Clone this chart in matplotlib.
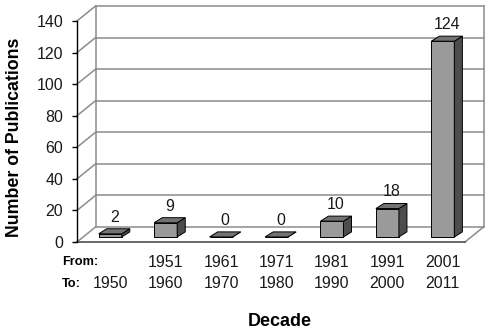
import matplotlib
matplotlib.use('Agg')
import matplotlib.pyplot as plt
from matplotlib.patches import Polygon

plt.rcParams['font.family'] = ['Liberation Sans', 'DejaVu Sans']

# data
decade_from = ['', '1951', '1961', '1971', '1981', '1991', '2001']
decade_to = ['1950', '1960', '1970', '1980', '1990', '2000', '2011']
publications = [2, 9, 0, 0, 10, 18, 124]
y_ticks = [0, 20, 40, 60, 80, 100, 120, 140]

# fake 3d geometry (data units)
wall_dx, wall_dy = 0.334, 9.5     # depth of the back wall
bar_dx, bar_dy = 0.1, 3.2         # bar front face offset from the front plane
bar_w = 0.415
depth_dx, depth_dy = 0.145, 3.2   # bar depth
grid_c = '#8c8c8c'
front_c, top_c, side_c = '#9a9a9a', '#737373', '#4d4d4d'
txt_c = '#1a1a1a'

fig = plt.figure(figsize=(4.9, 3.35), dpi=100)
ax = fig.add_axes([77 / 490, 93 / 335, 388 / 490, 221 / 335])
n = len(publications)
ax.set_xlim(0, n)
ax.set_ylim(0, 140)
for s in ['top', 'right', 'bottom']:
    ax.spines[s].set_visible(False)
ax.spines['left'].set_linewidth(1.0)

# walls and grid
ymax = y_ticks[-1]
for t in y_ticks:
    ax.plot([wall_dx, n + wall_dx], [t + wall_dy, t + wall_dy], color=grid_c, lw=1.1, zorder=1, clip_on=False)
    ax.plot([0, wall_dx], [t, t + wall_dy], color=grid_c, lw=1.1, zorder=1, clip_on=False)
ax.plot([wall_dx, wall_dx], [wall_dy, ymax + wall_dy], color=grid_c, lw=1.1, zorder=1, clip_on=False)
ax.plot([n + wall_dx, n + wall_dx], [wall_dy, ymax + wall_dy], color=grid_c, lw=1.1, zorder=1, clip_on=False)
ax.plot([n, n + wall_dx], [0, wall_dy], color=grid_c, lw=1.1, zorder=1, clip_on=False)
ax.plot([0, n], [0, 0], color='#404040', lw=1.1, zorder=1, clip_on=False)

# bars
centers = [i + 0.5 + bar_dx for i in range(n)]
ax.bar(centers, publications, width=bar_w, bottom=bar_dy, color=front_c,
       edgecolor='black', linewidth=0.7, zorder=3, clip_on=False)
for xc, v in zip(centers, publications):
    xl, xr = xc - bar_w / 2, xc + bar_w / 2
    yt = bar_dy + v
    top = Polygon([(xl, yt), (xr, yt), (xr + depth_dx, yt + depth_dy), (xl + depth_dx, yt + depth_dy)],
                  closed=True, facecolor=top_c, edgecolor='black', lw=0.7, zorder=4, clip_on=False)
    side = Polygon([(xr, bar_dy), (xr + depth_dx, bar_dy + depth_dy), (xr + depth_dx, yt + depth_dy), (xr, yt)],
                   closed=True, facecolor=side_c, edgecolor='black', lw=0.7, zorder=4, clip_on=False)
    ax.add_patch(side)
    ax.add_patch(top)
    ax.annotate(str(v), xy=(xc + depth_dx / 2, yt + depth_dy), xytext=(0, 3),
                textcoords='offset points', ha='center', va='bottom', fontsize=11.5, color=txt_c)

# axis ticks
ax.set_yticks(y_ticks)
ax.set_xticks([])
ax.tick_params(axis='y', length=3.5, width=1.0, pad=6.5, labelsize=11.5, labelcolor=txt_c)

# decade rows
for xc, f, t in zip(centers, decade_from, decade_to):
    ax.text(xc, -12.7, f, ha='center', va='center', fontsize=11.5, color=txt_c, clip_on=False)
    ax.text(xc, -26.6, t, ha='center', va='center', fontsize=11.5, color=txt_c, clip_on=False)
ax.text(-0.27, -12.7, 'From:', ha='left', va='center', fontsize=9.2, fontweight='bold', clip_on=False)
ax.text(-0.27, -26.6, 'To:', ha='left', va='center', fontsize=9.2, fontweight='bold', clip_on=False)

fig.text(280 / 490, 1 - 322 / 335, 'Decade', ha='center', va='center', fontsize=13, fontweight='bold')
fig.text(15 / 490, 1 - 137 / 335, 'Number of Publications', ha='center', va='center',
         rotation=90, fontsize=12.8, fontweight='bold')

fig.savefig('out.png', dpi=100)
